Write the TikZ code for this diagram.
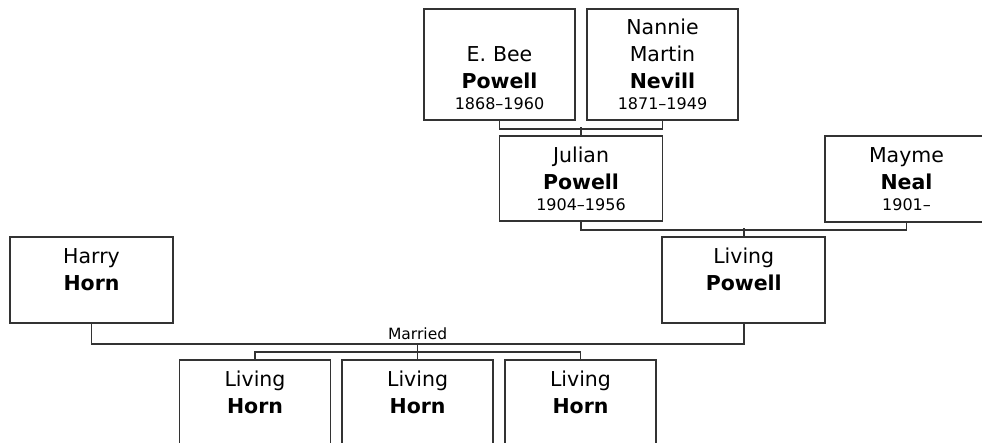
\documentclass[tikz,border=0pt]{standalone}
\usepackage{fontspec}
\setmainfont{DejaVu Sans}
\usetikzlibrary{positioning,calc}
\definecolor{treeline}{RGB}{51,51,51}
\newcommand{\yrs}[1]{{\fontsize{16pt}{20pt}\selectfont #1}}

\begin{document}
\begin{tikzpicture}[x=1pt, y=-1pt,
        person/.style={draw=treeline, line width=1.6pt, inner sep=0pt, text width=163pt, minimum height=86pt, align=center, font=\fontsize{20.5pt}{27pt}\selectfont},
        narrow/.style={person, text width=151pt},
        link/.style={draw=treeline, line width=1.6pt}]
  \useasboundingbox (0,0) rectangle (982,443);
  % grandparents
  \node[narrow, minimum height=111pt] (bee) at (499.5,64.5) {\vphantom{N}\\E. Bee\\\textbf{Powell}\\[-6pt]\yrs{1868--1960}};
  \node[narrow, minimum height=111pt] (nannie) at (662.5,64.5) {Nannie\\Martin\\\textbf{Nevill}\\[-6pt]\yrs{1871--1949}};
  % parents
  \node[person, minimum height=85pt] (julian) at (581,178.5) {Julian\\\textbf{Powell}\\[-6pt]\yrs{1904--1956}};
  \node[person] (mayme) at (906.5,179) {Mayme\\\textbf{Neal}\\[-6pt]\yrs{1901--}};
  \node[person] (livpow) at (743.75,280) {Living\\\textbf{Powell}\\[-6pt]\mbox{}};
  \node[person] (harry) at (91.5,280) {Harry\\\textbf{Horn}\\[-6pt]\mbox{}};
  % children
  \node[narrow] (kid1) at (255,403) {Living\\\textbf{Horn}\\[-6pt]\mbox{}};
  \node[narrow] (kid2) at (417.6,403) {Living\\\textbf{Horn}\\[-6pt]\mbox{}};
  \node[narrow] (kid3) at (580.5,403) {Living\\\textbf{Horn}\\[-6pt]\mbox{}};
  % links
  \draw[link] (bee.south) -- ++(0,8) -| (nannie.south);
  \draw[link] (julian.north) -- ++(0,-8);
  \draw[link] (julian.south) -- ++(0,8) -| (mayme.south);
  \draw[link] (livpow.north) -- ++(0,-8);
  \coordinate (wed) at (417.6,344);
  \draw[link] (harry.south) |- (wed) -| (livpow.south);
  \node[anchor=base, inner sep=0pt, font=\fontsize{15.5pt}{20pt}\selectfont] (married) at (417.6,340) {Married};
  \draw[link] (wed) -- ++(0,8) coordinate (kids);
  \draw[link] (kid1.north) |- (kids) -| (kid3.north);
  \draw[link] (kids) -- (kid2.north);
\end{tikzpicture}
\end{document}
